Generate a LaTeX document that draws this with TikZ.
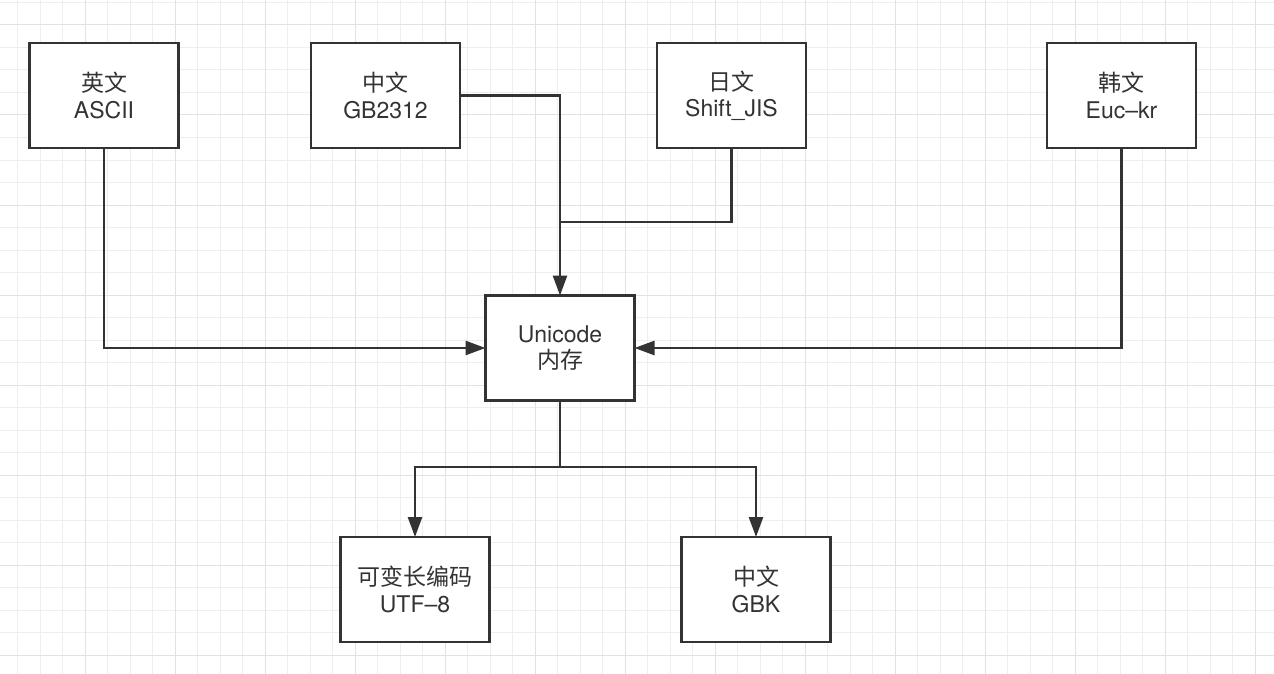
\documentclass[tikz,border=0pt]{standalone}
\usepackage{fontspec}
\setmainfont{TeX Gyre Heros}
\newfontfamily\cjk{Noto Sans CJK SC}
\usetikzlibrary{arrows.meta,calc}
\definecolor{ink}{HTML}{333333}
\definecolor{gridminor}{HTML}{EEEEEE}
\definecolor{gridmajor}{HTML}{E2E2E2}
\begin{document}
\begin{tikzpicture}[x=0.5pt,y=-0.5pt,every node/.style={outer sep=0pt,thick}]
\tikzstyle{box}=[draw=ink,line width=1.3pt,fill=white,minimum width=74.5pt,
minimum height=52.5pt,align=center,text=ink,font=\fontsize{11.5}{13.2}\selectfont]
\tikzstyle{wire}=[draw=ink,line width=1.3pt]
\tikzstyle{arr}=[wire,-{Triangle[length=10pt,width=7pt]}]
\fill[white] (0,0) rectangle (1274,674);
\useasboundingbox (0,0) rectangle (1274,674);
%
\foreach \x in {17.5,40,...,1274} \draw[gridminor,line width=0.5pt] (\x,0) -- (\x,674);
\foreach \y in {2.5,25,...,674} \draw[gridminor,line width=0.5pt] (0,\y) -- (1274,\y);
\foreach \x in {85,175,...,1274} \draw[gridmajor,line width=0.5pt] (\x,0) -- (\x,674);
\foreach \y in {25,115,...,674} \draw[gridmajor,line width=0.5pt] (0,\y) -- (1274,\y);
%
\node (en) [box] at (104,95.5) {{\cjk 英文}\\ASCII};
\node (zh) [box] at (385.5,95.5) {{\cjk 中文}\\GB2312};
\node (ja) [box] at (731.5,95.5) {{\cjk 日文}\\Shift\_JIS};
\node (ko) [box] at (1121.5,95.5) {{\cjk 韩文}\\Euc--kr};
\node (uni) [box] at (560,348) {Unicode\\{\cjk 内存}};
\node (utf) [box] at (415,589.5) {{\cjk 可变长编码}\\UTF--8};
\node (gbk) [box] at (756,589.5) {{\cjk 中文}\\GBK};
%
\coordinate (join) at (uni.north |- 0,222);
\coordinate (split) at (uni.south |- 0,467);
\draw [arr] (en) |- (uni);
\draw [arr] (zh) -| (uni);
\draw [wire] (ja) |- (join);
\draw [arr] (ko) |- (uni);
\draw [wire] (uni) -- (split);
\draw [arr] (split) -| (utf);
\draw [arr] (split) -| (gbk);
\end{tikzpicture}
\end{document}
